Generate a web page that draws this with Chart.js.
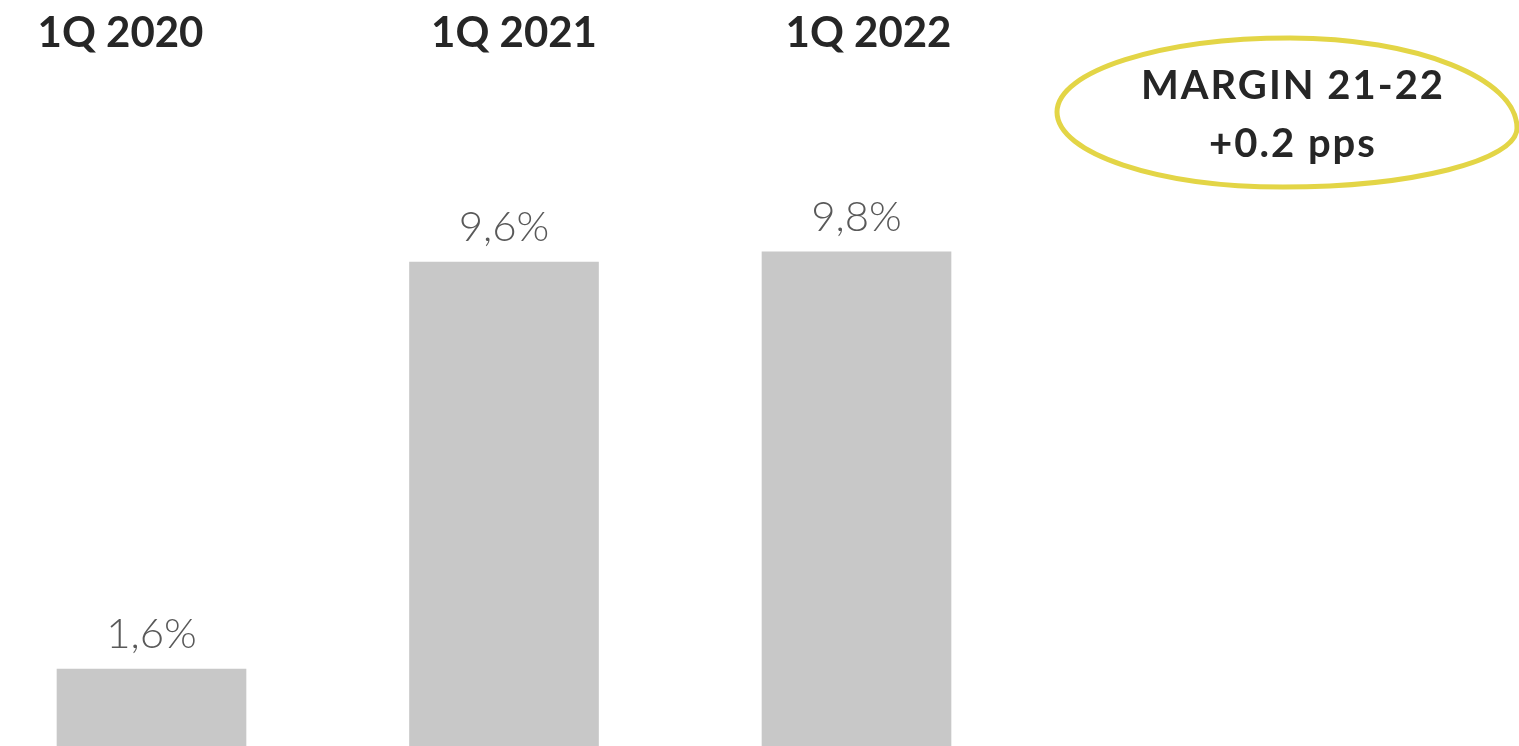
<!DOCTYPE html>
<html>
<head>
<meta charset="utf-8">
<script src="https://cdn.jsdelivr.net/npm/chart.js@4"></script>
<style>
  html, body { margin: 0; padding: 0; background: #fff; }
  #wrap { width: 1519px; height: 746px; }
</style>
</head>
<body>
<div id="wrap"><canvas id="grafico"></canvas></div>
<script>
// Datos del gráfico
const trimestres = ['1Q 2020', '1Q 2021', '1Q 2022'];
const margen = [1.6, 9.6, 9.8];
const etiquetas = ['1,6%', '9,6%', '9,8%'];
const nota = ['MARGIN 21-22', '+0.2 pps'];

// Títulos de cada trimestre arriba del gráfico
const titulos = {
  id: 'titulos',
  afterDraw(chart) {
    const ctx = chart.ctx;
    const x = chart.scales.x;
    const ajuste = [-31, 10, 12];
    ctx.save();
    ctx.font = 'bold 42px Lato';
    ctx.fillStyle = '#262626';
    ctx.textAlign = 'center';
    ctx.textBaseline = 'alphabetic';
    trimestres.forEach((t, i) => {
      ctx.fillText(t, x.getPixelForValue(i) + ajuste[i], 47);
    });
    ctx.restore();
  }
};

// Valor encima de cada barra
const valores = {
  id: 'valores',
  afterDatasetsDraw(chart) {
    const ctx = chart.ctx;
    const meta = chart.getDatasetMeta(0);
    ctx.save();
    ctx.font = '300 42px Lato';
    ctx.fillStyle = '#595959';
    ctx.textAlign = 'center';
    ctx.textBaseline = 'alphabetic';
    meta.data.forEach((bar, i) => {
      ctx.fillText(etiquetas[i], bar.x, bar.y - 21);
    });
    ctx.restore();
  }
};

// Óvalo amarillo (trazado a mano) con la nota del margen
const ovalo = {
  id: 'ovalo',
  afterDraw(chart) {
    const ctx = chart.ctx;
    const k = 0.5523;
    const izq = [1057, 112], arr = [1290, 38], der = [1517, 128], aba = [1283, 187];
    ctx.save();
    ctx.beginPath();
    ctx.moveTo(izq[0], izq[1]);
    ctx.bezierCurveTo(izq[0], izq[1] - k * (izq[1] - arr[1]), arr[0] - k * (arr[0] - izq[0]), arr[1], arr[0], arr[1]);
    ctx.bezierCurveTo(arr[0] + k * (der[0] - arr[0]), arr[1], der[0], der[1] - k * (der[1] - arr[1]), der[0], der[1]);
    ctx.bezierCurveTo(der[0], der[1] + k * (aba[1] - der[1]), aba[0] + k * (der[0] - aba[0]), aba[1], aba[0], aba[1]);
    ctx.bezierCurveTo(aba[0] - k * (aba[0] - izq[0]), aba[1], izq[0], izq[1] + k * (aba[1] - izq[1]), izq[0], izq[1]);
    ctx.closePath();
    ctx.lineWidth = 5;
    ctx.strokeStyle = '#E3D546';
    ctx.stroke();
    ctx.font = 'bold 40px Lato';
    ctx.letterSpacing = '2px';
    ctx.fillStyle = '#262626';
    ctx.textAlign = 'center';
    ctx.fillText(nota[0], 1293, 99);
    ctx.fillText(nota[1], 1293, 157);
    ctx.restore();
  }
};

const ctx = document.getElementById('grafico').getContext('2d');
new Chart(ctx, {
  type: 'bar',
  data: {
    labels: trimestres,
    datasets: [{
      data: margen,
      backgroundColor: '#C8C8C8',
      borderWidth: 0,
      barThickness: 189,
      clip: false
    }]
  },
  options: {
    responsive: true,
    maintainAspectRatio: false,
    animation: false,
    layout: { padding: { left: 151.5, right: 662.5, top: 0, bottom: 0 } },
    plugins: {
      legend: { display: false },
      tooltip: { enabled: false }
    },
    scales: {
      x: { display: false, offset: false },
      y: { display: false, min: 0.087, max: 14.75 }
    }
  },
  plugins: [titulos, valores, ovalo]
});
</script>
</body>
</html>
